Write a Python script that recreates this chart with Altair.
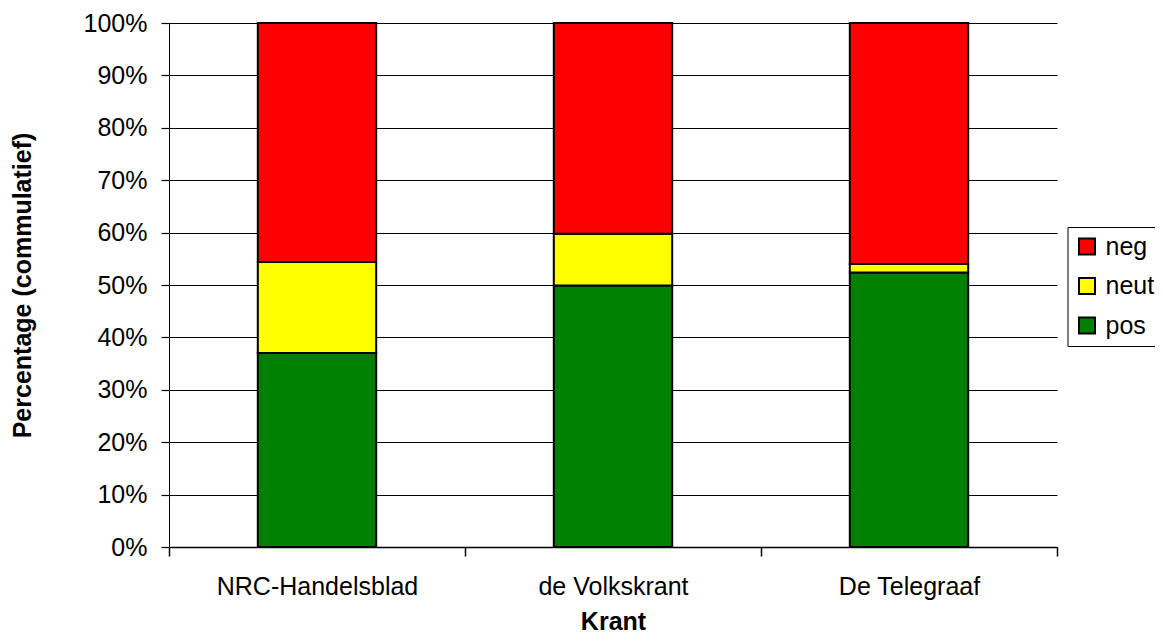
import altair as alt
import pandas as pd

kranten = ["NRC-Handelsblad", "de Volkskrant", "De Telegraaf"]
pos = [37.0, 49.9, 52.4]
neut = [17.4, 9.9, 1.6]
neg = [45.6, 40.2, 46.0]
categorieen = ["neg", "neut", "pos"]
kleuren = ["#FF0000", "#FFFF00", "#008000"]
y_ticks = [i / 10 for i in range(11)]

rows = []
for i, k in enumerate(kranten):
    for cat, vals, o in (("pos", pos, 0), ("neut", neut, 1), ("neg", neg, 2)):
        rows.append({"Krant": k, "Sentiment": cat, "Waarde": vals[i] / 100, "Volgorde": o})
df = pd.DataFrame(rows)

FONT = "Liberation Sans"
FS = 25

chart = alt.Chart(df).mark_bar(
    stroke="black", strokeWidth=2, width=alt.RelativeBandSize(0.4)
).encode(
    x=alt.X(
        "Krant:N", sort=kranten, title="Krant",
        scale=alt.Scale(paddingInner=0, paddingOuter=0),
        axis=alt.Axis(
            labelAngle=0, tickBand="extent", ticks=True, tickSize=9, tickColor="black",
            tickWidth=1.5, tickOpacity=1, domainColor="black", domainWidth=1.5, grid=False,
            labelFont=FONT, labelFontSize=FS, labelColor="black", labelPadding=30,
            labelBaseline="middle",
            titleFont=FONT, titleFontSize=FS, titleFontWeight="bold", titleColor="black",
            titleX=444, titleY=74, titleBaseline="middle", titleAlign="center",
        ),
    ),
    y=alt.Y(
        "Waarde:Q", stack="zero", title="Percentage (commulatief)",
        scale=alt.Scale(domain=[0, 1], nice=False),
        axis=alt.Axis(
            format=".0%", values=y_ticks, grid=True, gridColor="black", gridWidth=1,
            gridOpacity=1, ticks=True, tickSize=8, tickColor="black", tickWidth=1.2,
            tickOpacity=1, domainColor="black", domainWidth=1,
            labelFont=FONT, labelFontSize=FS, labelColor="black", labelPadding=14,
            titleFont=FONT, titleFontSize=FS, titleFontWeight="bold", titleColor="black",
            titleX=-146.5, titleY=262, titleBaseline="middle", titleAlign="center",
        ),
    ),
    color=alt.Color(
        "Sentiment:N",
        scale=alt.Scale(domain=categorieen, range=kleuren),
        legend=alt.Legend(
            title=None, orient="none", legendX=898.5, legendY=204,
            symbolType="square", symbolSize=256, symbolStrokeColor="black",
            symbolStrokeWidth=2, symbolOpacity=1,
            labelFont=FONT, labelFontSize=FS, labelColor="black", labelOffset=6,
            rowPadding=13.5, padding=7, strokeColor="black", fillColor="white",
        ),
    ),
    order=alt.Order("Volgorde:Q"),
).properties(
    width=888,
    height=524,
    autosize=alt.AutoSizeParams(type="none"),
    padding={"left": 161, "top": 15, "right": 98, "bottom": 86},
).configure_view(stroke=None).configure_axis(labelLimit=400)

chart.save("out.html", embed_options={"renderer": "svg", "actions": False})
